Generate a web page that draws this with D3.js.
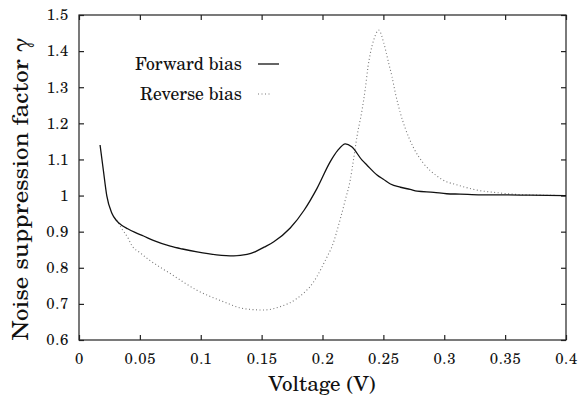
<!DOCTYPE html>
<html>
<head>
<meta charset="utf-8">
<script src="https://cdn.jsdelivr.net/npm/d3@7"></script>
<style>
  body { margin: 0; background: #fff; }
  text { font-family: "C059", "Century Schoolbook L", "TeX Gyre Schola", "DejaVu Serif", "Liberation Serif", "Noto Serif", "FreeSerif", "Nimbus Roman", "Tinos", serif; }
</style>
</head>
<body>
<div id="chart"></div>
<script>
// values
const forwardV = [0.0173, 0.020, 0.0228, 0.027, 0.031, 0.035, 0.040, 0.046, 0.053, 0.061, 0.075, 0.085, 0.097,
  0.113, 0.127, 0.138, 0.145, 0.152, 0.160, 0.1735, 0.185, 0.1955, 0.2064, 0.2125, 0.2188, 0.224, 0.2325,
  0.2366, 0.2448, 0.250, 0.2558, 0.264, 0.272, 0.2777, 0.2914, 0.302, 0.313, 0.330, 0.350, 0.370, 0.400];
const forwardGamma = [1.14, 1.07, 1.00, 0.951, 0.93, 0.918, 0.908, 0.898, 0.888, 0.876, 0.860, 0.852, 0.844,
  0.836, 0.833, 0.837, 0.845, 0.857, 0.872, 0.91, 0.96, 1.02, 1.094, 1.125, 1.143, 1.135, 1.098,
  1.084, 1.057, 1.045, 1.032, 1.023, 1.017, 1.012, 1.009, 1.005, 1.004, 1.002, 1.002, 1.001, 1.000];

const reverseV = [0.031, 0.035, 0.0405, 0.0433, 0.050, 0.058, 0.075, 0.0968, 0.1187, 0.135, 0.1516, 0.165,
  0.179, 0.1927, 0.2037, 0.2077, 0.2146, 0.2185, 0.2229, 0.2255, 0.2283, 0.2325, 0.2352, 0.2374, 0.2393,
  0.242, 0.2462, 0.2502, 0.2544, 0.2571, 0.2599, 0.264, 0.268, 0.275, 0.283, 0.294, 0.302, 0.308, 0.327,
  0.3435, 0.360, 0.380, 0.400];
const reverseGamma = [0.932, 0.909, 0.881, 0.862, 0.842, 0.821, 0.784, 0.738, 0.706, 0.687, 0.683, 0.692,
  0.715, 0.761, 0.830, 0.858, 0.935, 0.985, 1.045, 1.10, 1.163, 1.237, 1.297, 1.357, 1.394,
  1.43, 1.458, 1.424, 1.366, 1.329, 1.283, 1.228, 1.186, 1.131, 1.089, 1.054, 1.038, 1.032, 1.015,
  1.008, 1.003, 1.001, 1.000];

const xTicks = [0, 0.05, 0.1, 0.15, 0.2, 0.25, 0.3, 0.35, 0.4];
const yTicks = [0.6, 0.7, 0.8, 0.9, 1, 1.1, 1.2, 1.3, 1.4, 1.5];
const seriesNames = ["Forward bias", "Reverse bias"];

const w = 579, h = 399;
const m = { left: 79, right: 13, top: 15, bottom: 59 };

const svg = d3.select("#chart").append("svg")
  .attr("width", w)
  .attr("height", h);

const x = d3.scaleLinear().domain([0, 0.4]).range([m.left, w - m.right]);
const y = d3.scaleLinear().domain([0.6, 1.5]).range([h - m.bottom, m.top]);

const fmt = (d) => String(+d.toFixed(2));

// axes, ticks pointing inward; font comes from the css rule
const axisStyle = (g) => {
  g.attr("font-family", null);
  g.select(".domain").remove();
  g.selectAll(".tick line").attr("stroke", "#222").attr("stroke-width", 1.2);
  g.selectAll("text")
    .attr("font-size", 15)
    .attr("letter-spacing", 0.6)
    .attr("fill", "#111");
};

svg.append("g")
  .attr("transform", `translate(0,${h - m.bottom})`)
  .call(d3.axisBottom(x).tickValues(xTicks).tickFormat(fmt).tickSize(-5).tickPadding(13))
  .call(axisStyle);

svg.append("g")
  .attr("transform", `translate(0,${m.top})`)
  .call(d3.axisTop(x).tickValues(xTicks).tickFormat("").tickSize(-5))
  .call(axisStyle);

svg.append("g")
  .attr("transform", `translate(${m.left},0)`)
  .call(d3.axisLeft(y).tickValues(yTicks).tickFormat(fmt).tickSize(-5).tickPadding(10))
  .call(axisStyle);

svg.append("g")
  .attr("transform", `translate(${w - m.right},0)`)
  .call(d3.axisRight(y).tickValues(yTicks).tickFormat("").tickSize(-5))
  .call(axisStyle);

svg.append("rect")
  .attr("x", m.left)
  .attr("y", m.top)
  .attr("width", w - m.left - m.right)
  .attr("height", h - m.top - m.bottom)
  .attr("fill", "none")
  .attr("stroke", "#222")
  .attr("stroke-width", 1.2);

const line = d3.line()
  .x((d) => x(d[0]))
  .y((d) => y(d[1]))
  .curve(d3.curveMonotoneX);

svg.append("path")
  .datum(reverseV.map((v, i) => [v, reverseGamma[i]]))
  .attr("d", line)
  .attr("fill", "none")
  .attr("stroke", "#777")
  .attr("stroke-width", 1.1)
  .attr("stroke-dasharray", "1,2.5");

svg.append("path")
  .datum(forwardV.map((v, i) => [v, forwardGamma[i]]))
  .attr("d", line)
  .attr("fill", "none")
  .attr("stroke", "#111")
  .attr("stroke-width", 1.3);

// legend
const legend = svg.append("g");
seriesNames.forEach((name, i) => {
  const ly = 70 + i * 30;
  legend.append("text")
    .attr("x", 242)
    .attr("y", ly)
    .attr("text-anchor", "end")
    .attr("font-size", 18)
    .attr("textLength", i === 0 ? 107 : 102)
    .attr("lengthAdjust", "spacingAndGlyphs")
    .attr("fill", "#111")
    .text(name);
  legend.append("line")
    .attr("x1", 258)
    .attr("x2", i === 0 ? 279 : 272)
    .attr("y1", ly - 6)
    .attr("y2", ly - 6)
    .attr("stroke", i === 0 ? "#111" : "#777")
    .attr("stroke-width", i === 0 ? 1.3 : 1.1)
    .attr("stroke-dasharray", i === 0 ? null : "1,2.5");
});

// axis titles
svg.append("text")
  .attr("x", 322)
  .attr("y", 391)
  .attr("text-anchor", "middle")
  .attr("font-size", 21)
  .attr("textLength", 107)
  .attr("lengthAdjust", "spacingAndGlyphs")
  .attr("fill", "#111")
  .text("Voltage (V)");

svg.append("text")
  .attr("transform", "translate(28,189) rotate(-90)")
  .attr("text-anchor", "middle")
  .attr("font-size", 22)
  .attr("textLength", 303)
  .attr("lengthAdjust", "spacingAndGlyphs")
  .attr("fill", "#111")
  .text("Noise suppression factor γ");
</script>
</body>
</html>
